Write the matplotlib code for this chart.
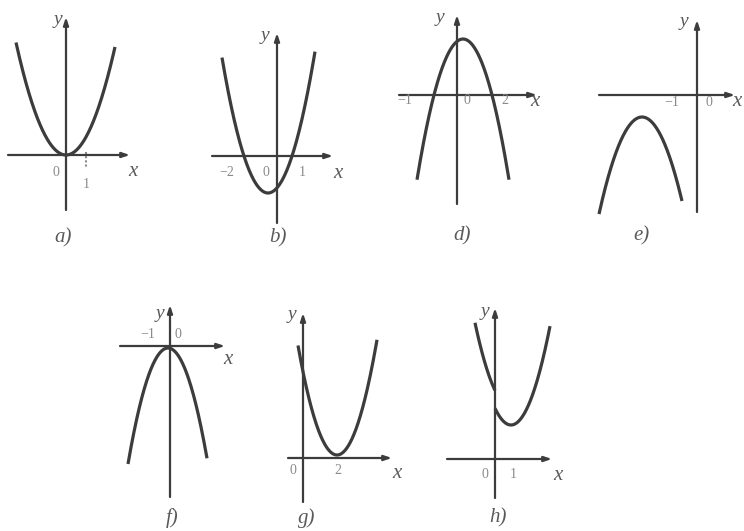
import numpy as np
import matplotlib.pyplot as plt

# panel names and parabola pieces y = a*(x - h)^2 + k, drawn over [x0, x1]
panel_names = ["a)", "b)", "d)", "e)", "f)", "g)", "h)"]
vertex_x = [0.0, -0.45, 0.3, -2.75, -0.1, 1.7, 0.8]
vertex_y = [0.0, -1.85, 2.8, -1.1, -0.1, 0.15, 1.7]
curv = [0.9, 1.28, -1.33, -1.05, -1.45, 1.44, 1.3]
x_start = [-2.5, -2.75, -2.0, -4.9, -2.1, -0.25, 0.0]
x_end = [2.45, 1.9, 2.6, -0.75, 1.85, 3.7, 2.75]

# extra left branch of h) (graph has a jump at x = 0)
h_left_vertex = (0.8, 2.6)
h_left_curv = 1.3
h_left_range = (-1.0, 0.0)

# number labels under the x axes
tick_text = [["0", "1"], ["\u22122", "0", "1"], ["\u22121", "0", "2"],
             ["\u22121", "0"], ["\u22121", "0"], ["0", "2"], ["0", "1"]]
tick_pos = [[-0.5, 1.0], [-2.5, -0.55, 1.25], [-2.6, 0.5, 2.4],
            [-1.25, 0.6], [-1.1, 0.4], [-0.5, 1.75], [-0.5, 0.9]]

# ---- layout (pixels of the 744x531 picture) ----
W, H = 744, 531
U = 20.0  # pixels per unit
origin_px = [(66, 155), (277, 156), (457, 95), (697, 95),
             (170, 346), (303, 458), (495, 459)]
xaxis_px = [(8, 130), (212, 333), (399, 537), (599, 735),
            (120, 225), (288, 392), (447, 552)]
yaxis_px = [(210, 17), (223, 33), (204, 15), (212, 20),
            (497, 305), (502, 313), (498, 308)]
tick_y = [-0.85, -0.85, -0.3, -0.4, 0.55, -0.65, -0.8]
xlab = [(3.35, -0.85), (3.05, -0.85), (3.9, -0.3), (2.0, -0.35),
        (2.9, -0.7), (4.7, -0.75), (3.15, -0.8)]
ylab = [(-0.4, 6.75), (-0.6, 6.05), (-0.85, 3.9), (-0.65, 3.65),
        (-0.5, 1.65), (-0.55, 7.15), (-0.5, 7.35)]
caption_px = [(63, 238), (278, 238), (462, 236), (641, 236),
              (172, 518), (307, 518), (498, 518)]

line_col = "#3c3c3c"
text_col = "#5a5a5a"
num_col = "#8a8a8a"
serif = ["Liberation Serif", "DejaVu Serif"]

fig = plt.figure(figsize=(W / 100, H / 100), dpi=100)
fig.patch.set_facecolor("white")


def add_panel(i):
    ox, oy = origin_px[i]
    l, r = xaxis_px[i][0] - 12, xaxis_px[i][1] + 28
    b, t = yaxis_px[i][0] + 10, yaxis_px[i][1] - 15
    ax = fig.add_axes([l / W, 1 - b / H, (r - l) / W, (b - t) / H])
    ax.set_xlim((l - ox) / U, (r - ox) / U)
    ax.set_ylim((oy - b) / U, (oy - t) / U)
    ax.axis("off")

    # axes with arrows
    xa0, xa1 = [(p - ox) / U for p in xaxis_px[i]]
    ya0, ya1 = [(oy - p) / U for p in yaxis_px[i]]
    ax.annotate("", xy=(xa1, 0), xytext=(xa0, 0),
                arrowprops=dict(arrowstyle="-|>,head_length=0.45,head_width=0.15",
                                color=line_col, lw=1.6, shrinkA=0, shrinkB=0))
    ax.annotate("", xy=(0, ya1), xytext=(0, ya0),
                arrowprops=dict(arrowstyle="-|>,head_length=0.45,head_width=0.15",
                                color=line_col, lw=1.6, shrinkA=0, shrinkB=0))

    # parabola
    xs = np.linspace(x_start[i], x_end[i], 200)
    ax.plot(xs, curv[i] * (xs - vertex_x[i]) ** 2 + vertex_y[i],
            color=line_col, lw=2.3, solid_capstyle="butt")
    if i == 6:
        xs = np.linspace(*h_left_range, 100)
        ax.plot(xs, h_left_curv * (xs - h_left_vertex[0]) ** 2 + h_left_vertex[1],
                color=line_col, lw=2.3, solid_capstyle="butt")

    for s, p in zip(tick_text[i], tick_pos[i]):
        yy = tick_y[i]
        if i == 0 and s == "1":
            yy = -1.5
            ax.plot([1.0, 1.0], [0.15, -0.6], color=num_col, lw=1.5, ls=(0, (1, 1)))
        ax.text(p, yy, s, color=num_col, fontsize=10, family=serif,
                ha="center", va="center")
    ax.text(*xlab[i], "x", color=text_col, fontsize=15, family=serif,
            style="italic", ha="center", va="center")
    ax.text(*ylab[i], "y", color=text_col, fontsize=14, family=serif,
            style="italic", ha="center", va="center")


for i in range(len(panel_names)):
    add_panel(i)
    cx, cy = caption_px[i]
    fig.text(cx / W, 1 - cy / H, panel_names[i], color=text_col, fontsize=15,
             family=serif, style="italic", ha="center", va="center")

fig.savefig("out.png", dpi=100, facecolor="white")
